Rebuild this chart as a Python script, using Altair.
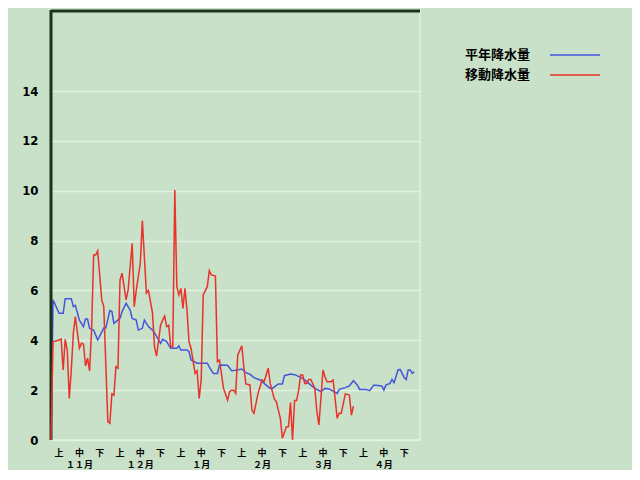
import altair as alt
import pandas as pd

# ---- data ----
blue_day = [0, 1, 4, 6, 7, 10, 11, 12, 14, 16,
            17, 18, 19, 21, 23, 26, 27, 29, 30, 31,
            34, 35, 37, 39, 40, 42, 43, 45, 46, 48,
            50, 51, 54, 55, 57, 58, 59, 62, 63, 64,
            67, 68, 69, 72, 74, 77, 78, 80, 82, 83,
            87, 89, 91, 94, 96, 98, 100, 103, 105, 108,
            109, 112, 114, 115, 118, 120, 123, 125, 128, 130,
            133, 135, 137, 141, 142, 145, 147, 149, 151, 152,
            155, 157, 159, 160, 163, 164, 165, 167, 168, 169,
            171, 172, 174, 175, 176, 177, 178, 179]
blue_val = [0, 5.62, 5.08, 5.08, 5.67, 5.67, 5.35, 5.4, 4.81, 4.55,
            4.85, 4.85, 4.48, 4.41, 4.01, 4.49, 4.49, 5.19, 5.15, 4.68,
            4.88, 5.15, 5.48, 5.21, 4.88, 4.81, 4.41, 4.48, 4.81, 4.55,
            4.41, 4.3, 3.88, 4.04, 3.95, 3.81, 3.68, 3.68, 3.78, 3.61,
            3.61, 3.54, 3.21, 3.08, 3.08, 3.08, 2.92, 2.67, 2.67, 3.01,
            3.0, 2.78, 2.8, 2.85, 2.7, 2.64, 2.5, 2.41, 2.27, 2.07,
            2.07, 2.25, 2.25, 2.58, 2.65, 2.62, 2.51, 2.41, 2.2, 2.07,
            1.94, 2.07, 2.05, 1.87, 2.03, 2.1, 2.17, 2.38, 2.2, 2.03,
            2.03, 1.98, 2.2, 2.2, 2.17, 2.0, 2.2, 2.27, 2.43, 2.3,
            2.81, 2.83, 2.51, 2.43, 2.81, 2.81, 2.67, 2.74]

red_day = [0, 1, 4, 5, 6, 7, 8, 9, 10, 11,
           12, 14, 15, 16, 17, 18, 19, 20, 21, 22,
           23, 25, 26, 28, 29, 30, 31, 32, 33, 34,
           35, 37, 38, 40, 41, 42, 44, 45, 47, 48,
           50, 51, 52, 54, 55, 56, 57, 58, 59, 60,
           61, 62, 63, 64, 65, 66, 67, 68, 69, 71,
           72, 73, 74, 75, 77, 78, 79, 81, 82, 83,
           85, 87, 88, 89, 90, 91, 92, 94, 95, 96,
           98, 99, 100, 102, 104, 105, 107, 108, 110, 111,
           113, 114, 116, 117, 118, 119, 120, 121, 122, 123,
           124, 125, 126, 127, 128, 130, 131, 132, 134, 135,
           136, 138, 139, 141, 142, 143, 145, 147, 148, 149]
red_val = [0, 3.94, 4.01, 4.05, 2.81, 4.04, 3.61, 1.67, 2.81, 4.28,
           4.95, 3.68, 3.88, 3.85, 2.97, 3.28, 2.77, 4.41, 7.42, 7.42,
           7.59, 5.62, 5.35, 0.74, 0.67, 1.85, 1.8, 2.94, 2.88, 6.42,
           6.69, 5.62, 6.02, 7.89, 5.35, 6.0, 7.09, 8.8, 5.9, 6.0,
           5.1, 3.74, 3.37, 4.61, 4.81, 4.97, 4.55, 4.6, 3.74, 3.74,
           10.03, 6.15, 5.82, 6.08, 5.28, 6.08, 5.21, 3.94, 3.68, 2.67,
           2.78, 1.67, 2.41, 5.82, 6.15, 6.79, 6.62, 6.58, 3.14, 3.21,
           2.07, 1.6, 1.94, 2.0, 2.0, 1.87, 3.4, 3.78, 2.94, 2.25,
           2.21, 1.2, 1.07, 1.87, 2.41, 2.34, 2.88, 2.27, 1.65, 1.54,
           0.87, 0.07, 0.53, 0.53, 1.5, 0.0, 1.58, 1.58, 2.0, 2.61,
           2.61, 2.27, 2.27, 2.43, 2.43, 2.07, 1.14, 0.6, 2.81, 2.54,
           2.34, 2.34, 2.41, 0.87, 1.07, 1.07, 1.85, 1.8, 1.0, 1.36]

series_names = ["平年降水量", "移動降水量"]
series_colors = ["#4455dd", "#e8322a"]

dekad_day = [4, 14, 24, 34, 44, 54, 64, 74, 84, 94, 104, 114, 124, 134, 144, 154, 164, 174]
dekad_text = ["上", "中", "下"] * 6
month_day = [14, 44, 74, 104, 134, 164]
month_text = ["１１月", "１２月", "１月", "２月", "３月", "４月"]
y_ticks = [0, 2, 4, 6, 8, 10, 12, 14]

# ---- chart ----
W, H = 369, 430
xscale = alt.Scale(domain=[0, 181.8], nice=False, zero=False)
yscale = alt.Scale(domain=[0, 17.25], nice=False)

blue_df = pd.DataFrame({"day": blue_day, "val": blue_val})
red_df = pd.DataFrame({"day": red_day, "val": red_val})
dekad_df = pd.DataFrame({"day": dekad_day, "t": dekad_text})
month_df = pd.DataFrame({"day": month_day, "t": month_text})

LABEL_FONT = "Liberation Sans Narrow, DejaVu Sans Condensed, sans-serif"
CJK = "Noto Sans CJK JP"

yaxis = alt.Axis(values=y_ticks, title=None, grid=True, gridColor="#e3f1e1",
                 gridWidth=1.5, domain=False, ticks=False, labelFont=LABEL_FONT,
                 labelFontWeight="bold", labelFontSize=13, labelPadding=13,
                 labelColor="#000000")

base_line = alt.Chart(blue_df).mark_line(color=series_colors[0], strokeWidth=1.5).encode(
    x=alt.X("day:Q", scale=xscale, axis=None),
    y=alt.Y("val:Q", scale=yscale, axis=yaxis),
)
red_line = alt.Chart(red_df).mark_line(color=series_colors[1], strokeWidth=1.5).encode(
    x=alt.X("day:Q", scale=xscale, axis=None),
    y=alt.Y("val:Q", scale=yscale),
)

frame_src = pd.DataFrame({"a": [0]})
top_rule = alt.Chart(frame_src).mark_rule(color="#1b331b", strokeWidth=3).encode(
    x=alt.value(0), x2=alt.value(W), y=alt.value(1))
left_rule = alt.Chart(frame_src).mark_rule(color="#1b331b", strokeWidth=3).encode(
    x=alt.value(0), y=alt.value(0), y2=alt.value(H))

dekad_labels = alt.Chart(dekad_df).mark_text(font=CJK, fontSize=9, fontWeight="bold",
                                             color="#000000").encode(
    x=alt.X("day:Q", scale=xscale), y=alt.value(443), text="t:N")
month_labels = alt.Chart(month_df).mark_text(font=CJK, fontSize=9, fontWeight="bold",
                                             color="#000000").encode(
    x=alt.X("day:Q", scale=xscale), y=alt.value(455), text="t:N")

legend_layers = []
for i, (name, col) in enumerate(zip(series_names, series_colors)):
    src = pd.DataFrame({"name": [name]})
    legend_layers.append(
        alt.Chart(src).mark_text(font=CJK, fontSize=13, fontWeight="bold", align="left",
                                 color="#000000").encode(
            x=alt.value(414), y=alt.value(45 + 20 * i), text="name:N"))
    legend_layers.append(
        alt.Chart(src).mark_rule(color=col, strokeWidth=2, opacity=0.75).encode(
            x=alt.value(499), x2=alt.value(549), y=alt.value(45 + 20 * i)))

chart = alt.layer(
    base_line, top_rule, left_rule, red_line, dekad_labels, month_labels, *legend_layers
).properties(
    width=W, height=H,
    autosize=alt.AutoSizeParams(type="none"),
    padding={"left": 43, "top": 2, "right": 212, "bottom": 30},
    background="#c9e0c9",
).configure_view(
    stroke="#e4f1e2", strokeWidth=1.5
)

chart.save("out.html", embed_options={"renderer": "svg", "actions": False})
